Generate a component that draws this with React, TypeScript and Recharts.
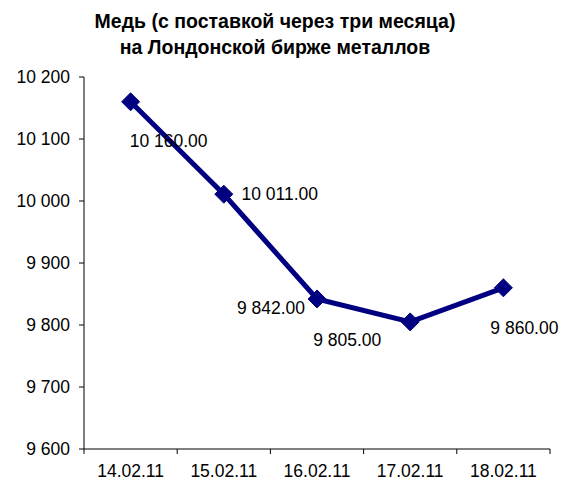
import { LineChart, Line, XAxis, YAxis, LabelList } from 'recharts';

// Copper, 3-month delivery, LME
const DATES = ['14.02.11', '15.02.11', '16.02.11', '17.02.11', '18.02.11'];
const PRICES = [10160, 10011, 9842, 9805, 9860];
const Y_TICKS = [9600, 9700, 9800, 9900, 10000, 10100, 10200];

// where Excel put each data label, relative to its point (dx, dy of label centre)
const LABEL_OFFSETS = [
  [38, 39],
  [56, 0],
  [-46, 9],
  [-63, 18],
  [21, 40],
];

const W = 561;
const H = 483;
const FONT = '"Liberation Sans", Arial, sans-serif';
const NAVY = '#000080';
const PLOT_LEFT = 84;
const PLOT_RIGHT = 550;
const PLOT_TOP = 77;
const PLOT_BOTTOM = 449;
const BAND = (PLOT_RIGHT - PLOT_LEFT) / DATES.length;

const data = DATES.map((d, i) => ({ date: d, value: PRICES[i] }));

const fmtInt = (v: number) => String(Math.round(v)).replace(/\B(?=(\d{3})+(?!\d))/g, ' ');
const fmtLabel = (v: number) => fmtInt(Math.floor(v)) + '.' + (v % 1).toFixed(2).slice(2);

function XTick(props: any) {
  const { x, y, payload, index } = props;
  const last = index === DATES.length - 1;
  return (
    <g>
      <line x1={x - BAND / 2} x2={x - BAND / 2} y1={y} y2={y + 5} stroke="#000" />
      {last && <line x1={x + BAND / 2} x2={x + BAND / 2} y1={y} y2={y + 5} stroke="#000" />}
      <text x={x} y={y + 28} textAnchor="middle" fontSize={17.5} fontFamily={FONT} fill="#000">
        {payload.value}
      </text>
    </g>
  );
}

function Diamond(props: any) {
  const { cx, cy } = props;
  if (cx == null || cy == null) return null;
  const r = 9;
  return (
    <polygon
      points={`${cx},${cy - r} ${cx + r},${cy} ${cx},${cy + r} ${cx - r},${cy}`}
      fill={NAVY}
      stroke={NAVY}
    />
  );
}

function PointLabel(props: any) {
  const { x, y, value, index } = props;
  const [dx, dy] = LABEL_OFFSETS[index] || [0, 0];
  return (
    <text
      x={x + dx}
      y={y + dy}
      dy="0.355em"
      textAnchor="middle"
      fontSize={17.5}
      fontFamily={FONT}
      fill="#000"
    >
      {fmtLabel(value)}
    </text>
  );
}

export default function App() {
  return (
    <div style={{ position: 'absolute', left: 0, top: 0, width: W, height: H, background: '#fff' }}>
      <svg width={W} height={H} style={{ position: 'absolute', left: 0, top: 0 }}>
        <text x={275} y={28} textAnchor="middle" fontSize={19.5} fontWeight="bold" fontFamily={FONT}>
          Медь (с поставкой через три месяца)
        </text>
        <text x={275} y={54} textAnchor="middle" fontSize={19.5} fontWeight="bold" fontFamily={FONT}>
          на Лондонской бирже металлов
        </text>
      </svg>
      <LineChart
        width={W}
        height={H}
        data={data}
        margin={{ top: PLOT_TOP, right: W - PLOT_RIGHT, bottom: 0, left: 0 }}
        style={{ position: 'absolute', left: 0, top: 0 }}
      >
        <XAxis
          dataKey="date"
          padding={{ left: BAND / 2, right: BAND / 2 }}
          axisLine={{ stroke: '#000' }}
          tickLine={false}
          tickSize={0}
          tickMargin={0}
          tick={<XTick />}
          interval={0}
          height={H - PLOT_BOTTOM}
        />
        <YAxis
          width={PLOT_LEFT}
          domain={[9600, 10200]}
          ticks={Y_TICKS}
          interval={0}
          axisLine={{ stroke: '#000' }}
          tickLine={{ stroke: '#000' }}
          tickSize={5}
          tickMargin={9}
          tickFormatter={fmtInt}
          tick={{ fontSize: 17.5, fontFamily: FONT, fill: '#000' }}
        />
        <Line
          type="linear"
          dataKey="value"
          stroke={NAVY}
          strokeWidth={5}
          dot={<Diamond />}
          activeDot={false}
          isAnimationActive={false}
        >
          <LabelList dataKey="value" content={<PointLabel />} />
        </Line>
      </LineChart>
    </div>
  );
}
